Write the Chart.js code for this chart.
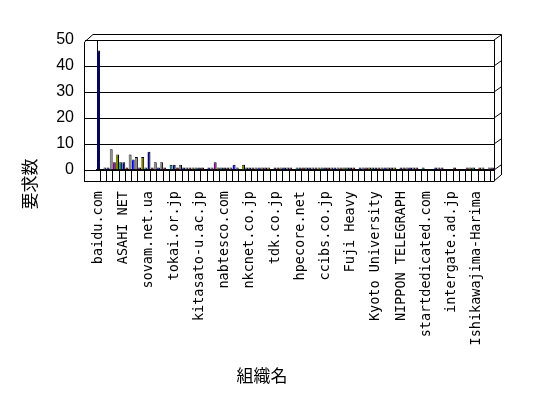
<!DOCTYPE html>
<html>
<head>
<meta charset="utf-8">
<script src="https://cdn.jsdelivr.net/npm/chart.js@4/dist/chart.umd.min.js"></script>
<style>
  html, body { margin: 0; padding: 0; background: #fff; }
  canvas { display: block; }
</style>
</head>
<body>
<canvas id="orgChart" width="548" height="398"></canvas>
<script>
// Organisation names shown on the axis (every 8th category)
const orgNames = ['baidu.com', 'ASAHI NET', 'sovam.net.ua', 'tokai.or.jp', 'kitasato-u.ac.jp',
  'nabtesco.com', 'nkcnet.co.jp', 'tdk.co.jp', 'hpecore.net', 'ccibs.co.jp', 'Fuji Heavy',
  'Kyoto University', 'NIPPON TELEGRAPH', 'startdedicated.com', 'intergate.ad.jp', 'Ishikawajima-Harima'];

// Request counts per organisation
const requestCounts = [
  46, 0, 1, 1, 8, 3, 6, 3, 3, 1,
  6, 4, 5, 1, 5, 1, 7, 1, 3, 1,
  3, 1, 0, 2, 2, 1, 2, 1, 1, 1,
  1, 1, 1, 1, 0, 1, 1, 3, 1, 1,
  1, 1, 1, 2, 1, 0, 2, 1, 1, 1,
  1, 1, 1, 1, 1, 0, 1, 1, 1, 1,
  1, 1, 0, 1, 1, 1, 1, 1, 1, 1,
  1, 1, 1, 1, 1, 1, 1, 1, 1, 1,
  1, 1, 0, 1, 1, 1, 1, 1, 1, 1,
  1, 1, 1, 1, 1, 0, 1, 1, 1, 1,
  1, 1, 0, 1, 0, 0, 0, 1, 1, 1,
  0, 0, 0, 1, 0, 0, 0, 1, 1, 1,
  0, 1, 1, 0, 1, 1
];

const yTicks = [0, 10, 20, 30, 40, 50];

// Only every 8th category carries a visible name
const categories = requestCounts.map((v, i) => (i % 8 === 0 ? orgNames[i / 8] : ''));

const palette = ['#000080', '#800000', '#808080', '#0000FF', '#808080', '#800080', '#808000', '#008080'];

// Walls, floor edge and axis titles of the old 3D look
const frame3d = {
  id: 'frame3d',
  afterDraw(chart) {
    const { ctx, chartArea: a, scales } = chart;
    ctx.save();
    ctx.strokeStyle = '#000';
    ctx.lineWidth = 1;
    const line = (x1, y1, x2, y2) => {
      ctx.beginPath();
      ctx.moveTo(x1, y1);
      ctx.lineTo(x2, y2);
      ctx.stroke();
    };
    const L = a.left - 13, R = a.right + 7;
    line(L + 0.5, a.top + 2, L + 0.5, a.bottom + 11.5);
    line(L + 0.5, a.top + 2, a.left - 4, a.top - 5.5);
    line(a.left - 4, a.top - 5.5, R + 0.5, a.top - 5.5);
    line(a.right + 0.5, a.top, a.right + 0.5, a.bottom + 11.5);
    line(R + 0.5, a.top - 5.5, R + 0.5, a.bottom + 5);
    yTicks.forEach(v => {
      const y = scales.y.getPixelForValue(v);
      line(a.right, y, R, y - 5);
    });
    line(a.right, a.bottom + 11, R, a.bottom + 5);
    line(L, a.bottom + 11.5, a.right, a.bottom + 11.5);

    ctx.fillStyle = '#000';
    ctx.font = '17px "Noto Sans CJK JP"';
    ctx.textAlign = 'center';
    ctx.textBaseline = 'middle';
    ctx.fillText('組織名', 262, 376);
    ctx.translate(30, 184);
    ctx.rotate(-Math.PI / 2);
    ctx.fillText('要求数', 0, 0);
    ctx.restore();
  }
};

new Chart(document.getElementById('orgChart').getContext('2d'), {
  type: 'bar',
  data: {
    labels: categories,
    datasets: [{
      label: '要求数',
      data: requestCounts,
      backgroundColor: requestCounts.map((v, i) => palette[i % palette.length]),
      borderColor: '#000',
      borderWidth: { top: 1, right: 1, left: 0, bottom: 0 },
      barPercentage: 0.95,
      categoryPercentage: 1
    }]
  },
  options: {
    responsive: false,
    animation: false,
    layout: { padding: { top: 40, right: 54, left: 0, bottom: 0 } },
    plugins: { legend: { display: false }, tooltip: { enabled: false } },
    scales: {
      x: {
        grid: {
          offset: true,
          drawOnChartArea: false,
          drawTicks: true,
          tickLength: 11,
          color: c => (c.index % 2 === 1 ? '#000' : 'rgba(0,0,0,0)')
        },
        border: { display: true, color: '#000', width: 2 },
        ticks: {
          autoSkip: false,
          maxRotation: 90,
          minRotation: 90,
          padding: 10,
          color: '#000',
          font: { family: '"DejaVu Sans Mono"', size: 13.5 }
        },
        afterFit: s => { s.height = 228; }
      },
      y: {
        min: 0,
        max: 50,
        afterBuildTicks: s => { s.ticks = yTicks.map(v => ({ value: v })); },
        grid: { color: '#000', tickLength: 12, drawTicks: true },
        border: { display: true, color: '#000' },
        ticks: { padding: 11, color: '#000', font: { family: '"Liberation Sans"', size: 16 } },
        afterFit: s => { s.width = 97; }
      }
    }
  },
  plugins: [frame3d]
});
</script>
</body>
</html>
